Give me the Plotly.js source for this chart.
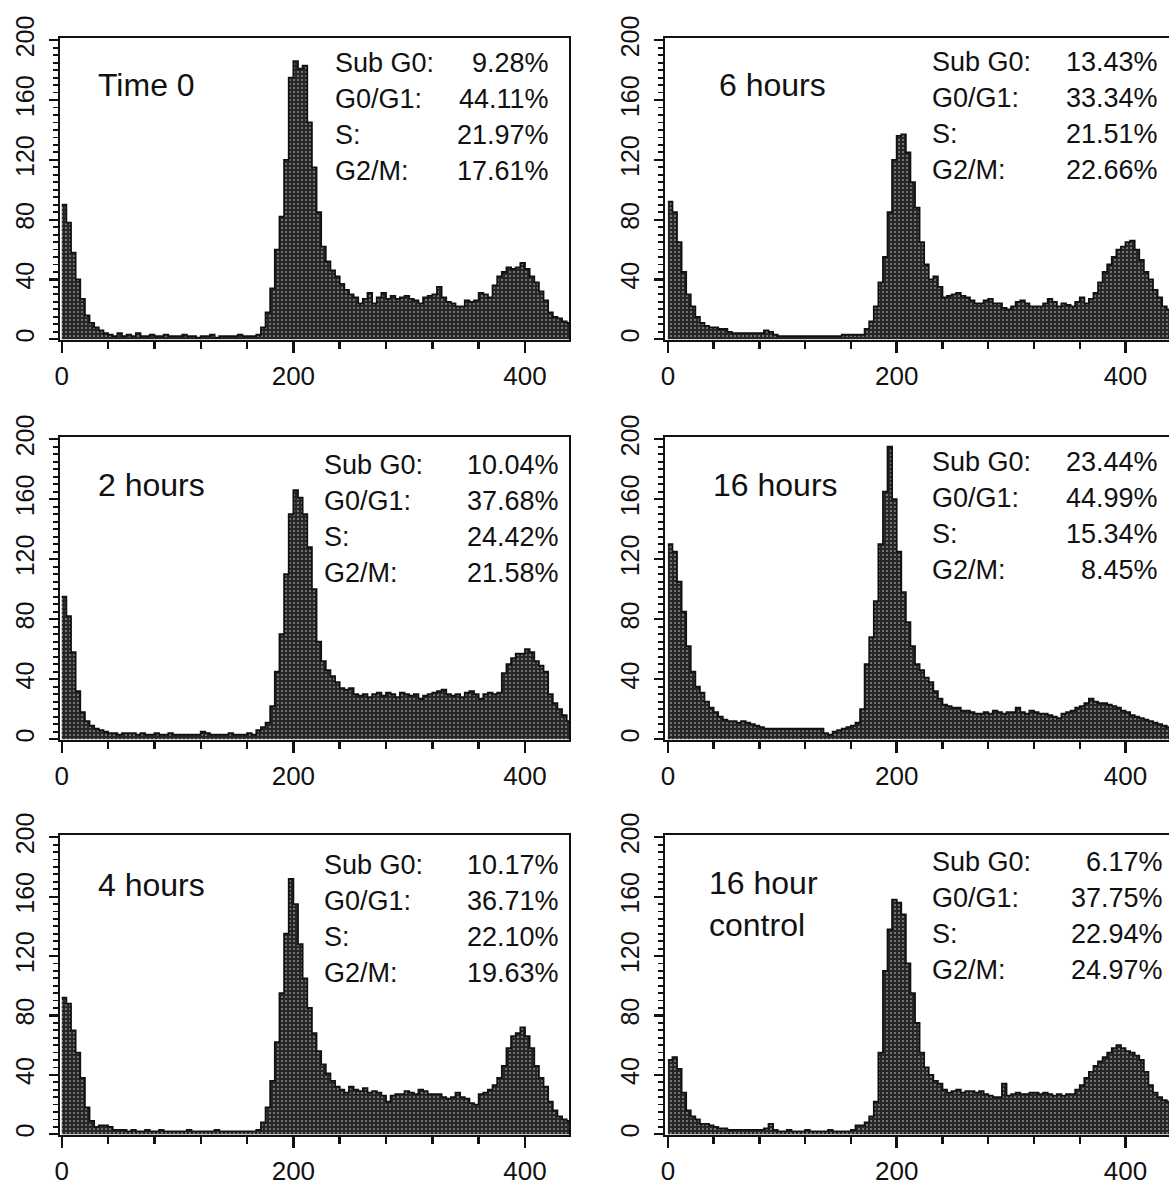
<!DOCTYPE html>
<html><head><meta charset="utf-8">
<script src="https://cdn.plot.ly/plotly-3.0.1.min.js"></script>
<style>html,body{margin:0;padding:0;background:#fff}#chart{width:1169px;height:1189px}</style>
</head><body><div id="chart"></div>
<script>
// DNA content channel bins (width in channel units)
const binWidth = 4;

// Cell counts per bin
const time0 = [90,78,58,40,27,16,11,8,6,4,
 3,2,4,2,3,2,4,2,2,3,
 2,2,3,2,2,2,3,2,2,1,
 2,2,3,1,2,2,2,2,3,2,
 2,2,3,8,18,34,60,82,120,175,
 186,181,183,145,115,85,62,52,46,42,
 37,33,30,28,24,27,31,24,28,31,
 27,29,27,28,29,27,26,24,28,29,
 30,35,28,25,24,22,22,26,25,26,
 31,30,28,36,42,45,48,47,48,51,
 47,42,38,32,26,18,15,14,12,11];

const hours2 = [95,82,58,32,18,12,9,7,6,5,
 4,4,3,4,4,4,3,4,3,3,
 4,3,3,4,3,3,3,3,3,3,
 5,4,3,3,3,3,4,3,3,3,
 4,3,6,8,11,22,45,70,110,150,
 166,161,150,128,100,65,52,46,42,38,
 34,33,34,30,29,30,28,30,31,29,
 31,30,28,31,30,29,30,27,29,30,
 31,32,33,30,29,30,28,31,32,30,
 27,30,31,30,31,44,50,54,57,57,
 60,58,52,49,45,30,24,20,16,12];

const hours4 = [92,88,70,55,38,18,9,5,6,6,
 5,3,3,3,2,3,2,2,3,2,
 2,3,2,2,2,2,2,3,2,2,
 2,2,2,3,2,2,2,2,2,2,
 2,2,3,8,18,36,62,95,135,172,
 155,128,105,85,68,56,47,41,36,32,
 30,28,32,30,29,31,28,29,28,26,
 22,26,27,27,29,28,27,30,29,27,
 27,27,25,24,25,28,25,24,21,20,
 27,28,30,33,38,46,58,66,68,72,
 66,58,46,38,32,22,16,12,10,9];

const hours6 = [92,85,65,45,30,22,15,11,9,8,
 8,7,7,5,4,4,4,4,4,4,
 4,6,5,3,2,2,2,2,2,2,
 2,2,2,2,2,2,2,2,3,3,
 3,3,3,7,12,22,38,55,85,120,
 136,137,125,105,88,65,50,40,42,35,
 28,29,30,31,29,28,26,24,24,26,
 27,24,24,21,20,22,25,26,24,22,
 22,22,24,27,25,22,24,23,22,25,
 28,24,27,31,38,45,50,55,60,62,
 65,66,60,53,45,40,33,28,22,20];

const hours16 = [130,125,105,85,62,45,35,31,25,21,
 18,15,13,12,12,11,12,11,10,9,
 8,7,7,7,7,7,7,7,7,7,
 7,7,7,7,4,3,5,6,7,8,
 9,11,20,50,68,92,130,165,195,160,
 125,98,78,62,50,46,41,38,32,27,
 23,22,21,21,19,19,18,17,17,18,
 17,19,18,17,18,18,21,18,17,19,
 18,17,17,16,15,14,17,18,19,21,
 22,24,27,25,24,24,23,22,21,19,
 18,16,15,14,13,12,11,10,9,8];

const control16 = [50,52,44,28,16,12,10,7,7,6,
 5,4,4,3,3,3,3,3,3,3,
 3,4,7,3,2,2,3,2,2,2,
 3,2,2,2,2,3,2,2,2,2,
 3,6,6,8,12,22,55,110,138,158,
 156,148,115,95,75,55,45,40,36,34,
 30,28,29,30,28,29,29,28,29,27,
 26,25,25,34,26,27,28,27,27,28,
 28,27,28,27,26,27,26,27,27,30,
 33,38,42,46,49,52,55,58,60,58,
 56,55,53,50,42,33,28,25,23,22];

const panelLabels = ['Time 0','2 hours','4 hours','6 hours','16 hours','16 hour<br>control'];
const phaseNames = ['Sub G0:','G0/G1:','S:','G2/M:'];
const pctTime0 = ['9.28%','44.11%','21.97%','17.61%'];
const pct2h = ['10.04%','37.68%','24.42%','21.58%'];
const pct4h = ['10.17%','36.71%','22.10%','19.63%'];
const pct6h = ['13.43%','33.34%','21.51%','22.66%'];
const pct16h = ['23.44%','44.99%','15.34%','8.45%'];
const pctCtrl = ['6.17%','37.75%','22.94%','24.97%'];

const xTickVals = [0,200,400];
const yTickVals = [0,40,80,120,160,200];

// ---------- layout geometry (pixels) ----------
const W = 1169, H = 1189;
const FONT = 'Liberation Sans, Arial, Helvetica, sans-serif';
const cols = [{x0:60, x1:569, range:[-1.5,438], mirrorY:true},
              {x0:665, x1:1169, range:[-2.5,438], mirrorY:false}];
const rows = [{top:38, bot:340},{top:437, bot:740},{top:835, bot:1135}];

const panels = [
  {vals:time0,    label:panelLabels[0], pct:pctTime0, col:0, row:0, lx:96,  ly:85,  sx:333, vx:551, sy:63},
  {vals:hours2,   label:panelLabels[1], pct:pct2h,    col:0, row:1, lx:96,  ly:485, sx:322, vx:561, sy:465},
  {vals:hours4,   label:panelLabels[2], pct:pct4h,    col:0, row:2, lx:96,  ly:885, sx:322, vx:561, sy:865},
  {vals:hours6,   label:panelLabels[3], pct:pct6h,    col:1, row:0, lx:717, ly:85,  sx:930, vx:1160, sy:62},
  {vals:hours16,  label:panelLabels[4], pct:pct16h,   col:1, row:1, lx:711, ly:485, sx:930, vx:1160, sy:462},
  {vals:control16,label:panelLabels[5], pct:pctCtrl,  col:1, row:2, lx:707, ly:904, sx:930, vx:1165, sy:862}
];

const px = v => v / W;
const py = v => 1 - v / H;

const data = [];
const layout = {
  width: W, height: H,
  margin: {l:0, r:0, t:0, b:0},
  paper_bgcolor: '#ffffff', plot_bgcolor: '#ffffff',
  showlegend: false,
  font: {family: FONT, color: '#111'},
  annotations: []
};

panels.forEach((p, i) => {
  const n = i + 1;
  const xa = n === 1 ? 'x' : 'x' + n;
  const ya = n === 1 ? 'y' : 'y' + n;
  const c = cols[p.col], r = rows[p.row];

  const xs = p.vals.map((_, k) => k * binWidth);
  xs.push(p.vals.length * binWidth);
  const ys = p.vals.slice();
  ys.push(p.vals[p.vals.length - 1]);

  data.push({
    type: 'scatter', mode: 'lines', x: xs, y: ys, xaxis: xa, yaxis: ya,
    line: {shape: 'hv', color: '#111', width: 1.8},
    fill: 'tozeroy', fillcolor: '#262626',
    fillpattern: {shape: '.', fgcolor: '#8c8c8c', bgcolor: '#262626', size: 4, solidity: 0.2},
    hoverinfo: 'skip'
  });

  layout['xaxis' + (n === 1 ? '' : n)] = {
    domain: [px(c.x0), px(c.x1)], anchor: ya, range: c.range,
    tickvals: xTickVals, ticks: 'outside', ticklen: 11, tickwidth: 2.4, tickcolor: '#111',
    minor: {dtick: 40, tick0: 0, ticks: 'outside', ticklen: 7, tickwidth: 2.4, tickcolor: '#111'},
    showline: true, linecolor: '#111', linewidth: 2.4, mirror: true,
    showgrid: false, zeroline: false, ticklabelstandoff: 0,
    tickfont: {family: FONT, size: 26, color: '#111'}, fixedrange: true
  };
  layout['yaxis' + (n === 1 ? '' : n)] = {
    domain: [py(r.bot), py(r.top)], anchor: xa, range: [-0.5, 201.5],
    tickvals: yTickVals, ticks: 'outside', ticklen: 9, tickwidth: 2.2, tickcolor: '#111',
    minor: {dtick: 5, tick0: 0, ticks: 'outside', ticklen: 5, tickwidth: 1.8, tickcolor: '#111'},
    showline: true, linecolor: '#111', linewidth: 2.4, mirror: c.mirrorY,
    showgrid: false, zeroline: false, tickangle: -90, ticklabelstandoff: 5,
    tickfont: {family: FONT, size: 25, color: '#111'}, fixedrange: true
  };

  layout.annotations.push({
    xref: 'paper', yref: 'paper', x: px(p.lx), y: py(p.ly),
    xanchor: 'left', yanchor: 'middle', align: 'left', showarrow: false,
    text: p.label, font: {family: FONT, size: 32, color: '#111'}
  });
  phaseNames.forEach((nm, k) => {
    const yy = py(p.sy + k * 36);
    layout.annotations.push({
      xref: 'paper', yref: 'paper', x: px(p.sx), y: yy,
      xanchor: 'left', yanchor: 'middle', showarrow: false,
      text: nm, font: {family: FONT, size: 27, color: '#111'}
    });
    layout.annotations.push({
      xref: 'paper', yref: 'paper', x: px(p.vx), y: yy,
      xanchor: 'right', yanchor: 'middle', showarrow: false,
      text: p.pct[k], font: {family: FONT, size: 27, color: '#111'}
    });
  });
});

Plotly.newPlot('chart', data, layout, {staticPlot: true, displayModeBar: false});
</script>
</body></html>
